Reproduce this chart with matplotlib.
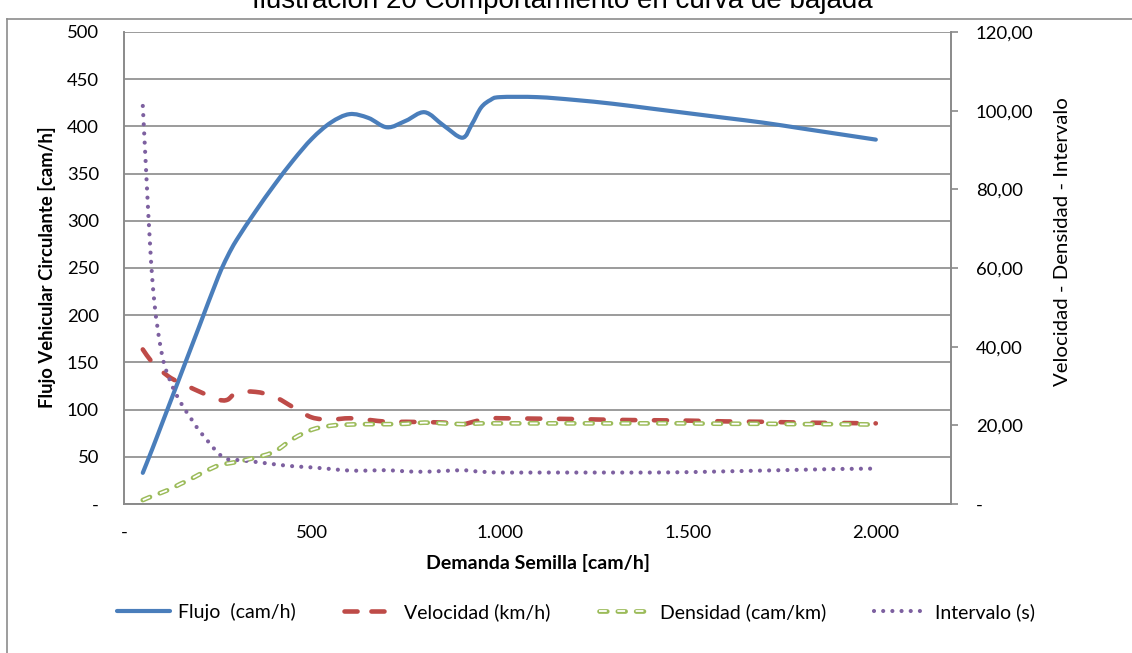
import matplotlib
matplotlib.use("Agg")
import numpy as np
import matplotlib.pyplot as plt
from matplotlib.lines import Line2D
from matplotlib.path import Path
from matplotlib.patches import PathPatch
from matplotlib.ticker import FixedLocator, FuncFormatter

plt.rcParams["font.family"] = ["Lato", "DejaVu Sans"]
plt.rcParams["lines.scale_dashes"] = False

# Demanda semilla (cam/h)
demanda = [50, 75, 100, 125, 150, 175, 200, 250, 275, 300, 350, 400, 450, 500,
           550, 600, 650, 700, 750, 800, 850, 900, 925, 950, 975, 1000,
           1100, 1200, 1300, 1400, 1500, 1600, 1700, 1800, 1900, 2000]

# Flujo vehicular circulante (cam/h) - eje izquierdo
flujo = [33, 58, 84, 110, 136, 162, 188, 240, 262, 280, 310, 338, 364, 387,
         404, 413, 409, 399, 406, 415, 401, 388, 402, 420, 428, 431,
         431, 428, 424, 419, 414, 409, 404, 398, 392, 386]

# Velocidad (km/h), densidad (cam/km), intervalo (s) - eje derecho
velocidad = [39.3, 36.0, 33.8, 32.0, 30.8, 29.7, 28.6, 26.6, 26.5, 28.3, 28.5, 27.3, 24.6, 22.0,
             21.5, 21.8, 21.4, 20.9, 20.9, 20.8, 20.7, 20.3, 20.8, 21.4, 21.8, 21.8,
             21.7, 21.6, 21.4, 21.3, 21.2, 21.0, 20.9, 20.7, 20.6, 20.5]
densidad = [1.0, 2.0, 2.9, 3.9, 5.1, 6.2, 7.5, 9.8, 10.3, 10.7, 11.8, 13.3, 16.6, 18.9,
            19.9, 20.2, 20.3, 20.3, 20.4, 20.7, 20.5, 20.3, 20.4, 20.5, 20.5, 20.5,
            20.5, 20.5, 20.5, 20.5, 20.5, 20.4, 20.4, 20.3, 20.3, 20.2]
intervalo = [101.2, 57.5, 38.5, 30.8, 25.9, 22.2, 18.7, 13.0, 11.4, 11.2, 10.7, 10.1, 9.6, 9.3,
             8.9, 8.5, 8.5, 8.6, 8.3, 8.2, 8.4, 8.6, 8.4, 8.2, 8.1, 8.0,
             8.0, 8.0, 8.0, 8.0, 8.1, 8.3, 8.5, 8.7, 8.9, 9.0]

x_ticks = [0, 500, 1000, 1500, 2000]
left_ticks = list(range(0, 501, 50))
right_ticks = [0, 20, 40, 60, 80, 100, 120]

series_labels = ["Flujo  (cam/h)", "Velocidad (km/h)", "Densidad (cam/km)", "Intervalo (s)"]

C_BLUE = "#4A7EBB"
C_RED = "#BE4B48"
C_GREEN = "#9BBB59"
C_PURPLE = "#7D60A0"
C_GRID = "#8A8A8A"

W, H = 1132, 653
fig = plt.figure(figsize=(W / 100, H / 100), dpi=100)
fig.patch.set_facecolor("white")

# chart-area frame (left and top edges)
fig.add_artist(Line2D([7 / W, 7 / W], [0, 1 - 19 / H], color="#8C8C8C", lw=1.2))
fig.add_artist(Line2D([7 / W, 1], [1 - 19 / H, 1 - 19 / H], color="#8C8C8C", lw=1.2))

L, R, T, B = 124, 951, 32, 504
ax = fig.add_axes([L / W, 1 - B / H, (R - L) / W, (B - T) / H])
ax2 = ax.twinx()

ax.set_xlim(0, 2200)
ax.set_ylim(0, 500)
ax2.set_xlim(0, 2200)
ax2.set_ylim(0, 120)


def thousands(v, pos=None):
    if v == 0:
        return "-"
    return f"{int(v):,}".replace(",", ".")


def decimals(v, pos=None):
    if v == 0:
        return "-"
    return f"{v:.2f}".replace(".", ",")


def plain(v, pos=None):
    if v == 0:
        return "-"
    return f"{int(v)}"


ax.xaxis.set_major_locator(FixedLocator(x_ticks))
ax.xaxis.set_major_formatter(FuncFormatter(thousands))
ax.yaxis.set_major_locator(FixedLocator(left_ticks))
ax.yaxis.set_major_formatter(FuncFormatter(plain))
ax2.yaxis.set_major_locator(FixedLocator(right_ticks))
ax2.yaxis.set_major_formatter(FuncFormatter(decimals))

tick_fs = 13.3
ax.tick_params(axis="x", length=0, pad=15, labelsize=tick_fs, colors="black")
ax.tick_params(axis="y", length=0, pad=18, labelsize=tick_fs, colors="black")
ax2.tick_params(axis="y", length=5, width=1.2, color=C_GRID, pad=13,
                labelsize=tick_fs, labelcolor="black")

ax.grid(axis="y", color=C_GRID, lw=1.2)
ax.grid(axis="x", visible=False)
ax.set_axisbelow(True)
for a in (ax, ax2):
    for side in ("left", "bottom", "right"):
        a.spines[side].set_color(C_GRID)
        a.spines[side].set_linewidth(1.2)
    a.spines["top"].set_visible(False)


def smooth_path(xs, ys):
    """Smoothed curve through every point (Catmull-Rom segments as cubic Beziers)."""
    p = np.column_stack([xs, ys]).astype(float)
    n = len(p)
    verts, codes = [p[0]], [Path.MOVETO]
    for i in range(n - 1):
        p0 = p[i - 1] if i > 0 else p[i]
        p1, p2 = p[i], p[i + 1]
        p3 = p[i + 2] if i + 2 < n else p[i + 1]
        verts += [p1 + (p2 - p0) / 6.0, p2 - (p3 - p1) / 6.0, p2]
        codes += [Path.CURVE4] * 3
    return Path(verts, codes)


def draw_series(axis, xs, ys, z=3, **style):
    cap = style.pop("capstyle", "round")
    patch = PathPatch(smooth_path(xs, ys), facecolor="none", zorder=z, **style)
    patch.set_capstyle(cap)
    patch.set_joinstyle("round")
    axis.add_patch(patch)
    return patch


vel_ls = (0, (9.4, 13.4))
dens_ls = (0, (5.6, 7.6))
int_ls = (0, (0.01, 6.6))

draw_series(ax, demanda, flujo, edgecolor=C_BLUE, lw=3.0)
draw_series(ax2, demanda, velocidad, edgecolor=C_RED, lw=3.3, linestyle=vel_ls)
draw_series(ax2, demanda, densidad, edgecolor=C_GREEN, lw=3.4, linestyle=dens_ls)
draw_series(ax2, demanda, densidad, z=3.1, edgecolor="white", lw=1.3,
            linestyle=dens_ls, capstyle="butt")
draw_series(ax2, demanda, intervalo, edgecolor=C_PURPLE, lw=3.0, linestyle=int_ls)

# axis titles
fig.text(47 / W, 1 - 267 / H, "Flujo Vehicular Circulante [cam/h]", rotation=90,
         ha="center", va="center", fontsize=13.3, fontweight="bold")
fig.text(1063 / W, 1 - 242 / H, "Velocidad - Densidad - Intervalo", rotation=90,
         ha="center", va="center", fontsize=14.7)
fig.text(538 / W, 1 - 563 / H, "Demanda Semilla [cam/h]",
         ha="center", va="center", fontsize=14, fontweight="bold")

# chart title (partly above the frame)
fig.text(562 / W, 1 - 8 / H, "Ilustración 20 Comportamiento en curva de bajada",
         ha="center", va="baseline", fontsize=20, family=["Liberation Sans", "DejaVu Sans"])

# legend keys
h_flujo = Line2D([], [], color=C_BLUE, lw=3.0, solid_capstyle="round")
h_vel = Line2D([], [], color=C_RED, lw=3.3, ls=(0, (9.4, 10.0)), dash_capstyle="round")
h_dens_out = Line2D([], [], color=C_GREEN, lw=3.4, ls=dens_ls, dash_capstyle="round")
h_dens_in = Line2D([], [], color="white", lw=1.3, ls=dens_ls, dash_capstyle="butt")
h_int = Line2D([], [], color=C_PURPLE, lw=3.0, ls=int_ls, dash_capstyle="round")

fig.legend([h_flujo, h_vel, (h_dens_out, h_dens_in), h_int], series_labels,
           loc="center", bbox_to_anchor=(576 / W, 1 - 612 / H),
           ncol=4, frameon=False, fontsize=14, handlelength=2.7,
           handletextpad=0.4, columnspacing=2.5)

fig.savefig("out.png", dpi=100, facecolor="white")
